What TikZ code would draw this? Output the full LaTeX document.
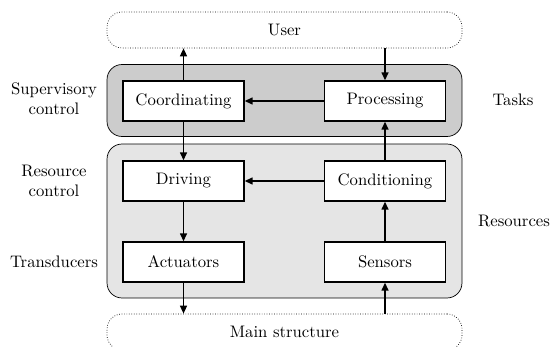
\documentclass[tikz,border=0pt]{standalone}
\usepackage{xcolor}
\usepackage{tikz}
\usetikzlibrary{arrows.meta}

\definecolor{taskgray}{gray}{0.8}
\definecolor{resgray}{gray}{0.9}

\tikzset{
  block/.style={draw, thick, fill=white, minimum width=2.42cm, minimum height=0.8cm, inner sep=0pt},
  panel/.style={draw, rounded corners=0.3cm, minimum width=7.1cm, inner sep=0pt},
  outer/.style={draw, densely dotted, rounded corners=0.3cm, minimum width=7.1cm, minimum height=0.72cm, inner sep=0pt},
  flow/.style={thick, -{Triangle[length=1.6mm,width=1.4mm]}},
  side/.style={align=center, inner sep=0pt}
}

\begin{document}
\begin{tikzpicture}[x=0.02cm, y=-0.02cm, font=\fontsize{9.5}{11.5}\selectfont]
                      \useasboundingbox (0,0) rectangle (553,347);
                      \begin{scope}
                        \node[outer] (user) at (284.5,30) {User};
                        \node[outer] (mainstr) at (284.5,332) {Main structure};
                        \node[panel, fill=taskgray, minimum height=1.44cm] (taskpanel) at (284.5,100.5) {};
                        \node[panel, fill=resgray, minimum height=3.08cm] (respanel) at (284.5,221) {};
                        \node[block] (coord) at (183.5,101) {Coordinating};
                        \node[block] (proc) at (385,101) {Processing};
                        \node[block] (driv) at (183.5,181) {Driving};
                        \node[block] (cond) at (385,181) {Conditioning};
                        \node[block] (act) at (183.5,262) {Actuators};
                        \node[block] (sens) at (385,262) {Sensors};
                        \node[side] (supctl) at (54,99) {Supervisory\\control};
                        \node[side] (resctl) at (54,181) {Resource\\control};
                        \node[side] (transd) at (54,262) {Transducers};
                        \node[side] (tasks) at (513,100) {Tasks};
                        \node[side] (resources) at (514,221) {Resources};
                        \draw[flow] (coord.north) -- (coord.north |- user.south);
                        \draw[flow] (proc.north |- user.south) -- (proc.north);
                        \draw[flow] (proc.west) -- (coord.east);
                        \draw[flow] (coord.south) -- (driv.north);
                        \draw[flow] (cond.north) -- (proc.south);
                        \draw[flow] (cond.west) -- (driv.east);
                        \draw[flow] (driv.south) -- (act.north);
                        \draw[flow] (sens.north) -- (cond.south);
                        \draw[flow] (act.south) -- (act.south |- mainstr.north);
                        \draw[flow] (sens.south |- mainstr.north) -- (sens.south);
                      \end{scope}
                    \end{tikzpicture}
\end{document}
